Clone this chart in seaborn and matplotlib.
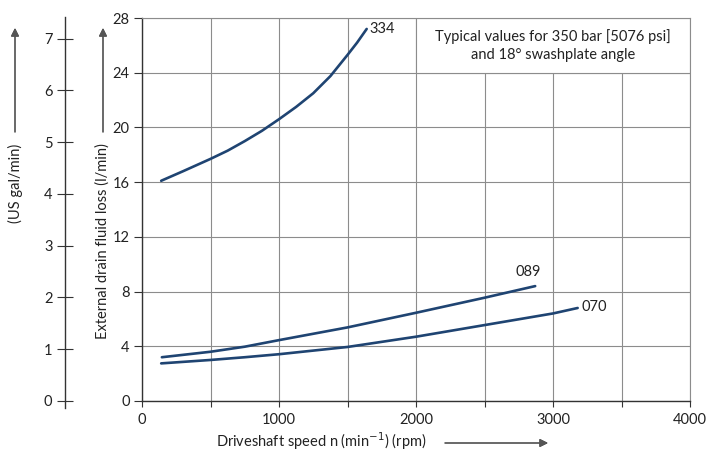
import pandas as pd
import matplotlib.pyplot as plt
import seaborn as sns
from matplotlib.patches import Rectangle

# ===== DATA =====
rpm_334 = [140, 300, 500, 625, 750, 875, 1000, 1125, 1250, 1375, 1500, 1570, 1640]
flow_334 = [16.1, 16.8, 17.7, 18.3, 19.0, 19.75, 20.6, 21.5, 22.5, 23.75, 25.3, 26.2, 27.2]

rpm_089 = [145, 500, 750, 1000, 1500, 2000, 2500, 2870]
flow_089 = [3.2, 3.6, 3.97, 4.45, 5.38, 6.45, 7.55, 8.4]

rpm_070 = [140, 500, 750, 1000, 1500, 2000, 2500, 3000, 3180]
flow_070 = [2.75, 3.0, 3.2, 3.42, 3.95, 4.7, 5.55, 6.4, 6.8]

sizes = ["334", "089", "070"]
x_ticks = [0, 1000, 2000, 3000, 4000]
y_ticks = [0, 4, 8, 12, 16, 20, 24, 28]
gal_ticks = [0, 1, 2, 3, 4, 5, 6, 7]
L_PER_GAL = 3.785

df = pd.concat([
    pd.DataFrame({"rpm": rpm_334, "flow": flow_334, "size": "334"}),
    pd.DataFrame({"rpm": rpm_089, "flow": flow_089, "size": "089"}),
    pd.DataFrame({"rpm": rpm_070, "flow": flow_070, "size": "070"}),
])

# ===== STYLE =====
sns.set_theme(style="white")
plt.rcParams["font.family"] = ["Lato", "DejaVu Sans"]
W, H = 707, 453
line_col = "#1f4472"
grid_col = "#8c8c8c"
axis_col = "#333333"
txt_col = "#222222"
fs = 10.5

fig = plt.figure(figsize=(W / 100, H / 100), dpi=100)

# main axes: x 0 -> px 142, 4000 -> px 690 ; y 0 -> px 401, 28 -> px 18
ax = fig.add_axes([142 / W, (H - 401) / H, 548 / W, 383 / H])
sns.lineplot(data=df, x="rpm", y="flow", hue="size", hue_order=sizes,
             palette=[line_col] * 3, linewidth=1.9, legend=False, ax=ax,
             sort=False, estimator=None)

ax.set_xlim(0, 4000)
ax.set_ylim(0, 28)
ax.set_xticks(range(0, 4001, 500))
ax.set_xticklabels([str(v) if v in x_ticks else "" for v in range(0, 4001, 500)],
                   fontsize=fs)
ax.set_yticks(y_ticks)
ax.set_yticklabels([str(v) for v in y_ticks], fontsize=fs)
ax.set_xlabel("")
ax.set_ylabel("")
ax.grid(True, color=grid_col, linewidth=0.8)
ax.set_axisbelow(True)
ax.tick_params(axis="x", bottom=True, direction="out", length=4, width=0.8,
               color=axis_col, pad=5, labelcolor=txt_col)
ax.tick_params(axis="y", left=True, direction="out", length=6, width=0.8,
               color=axis_col, pad=3, labelcolor=txt_col)
for s in ["left", "bottom"]:
    ax.spines[s].set_color(axis_col)
    ax.spines[s].set_linewidth(1.0)
for s in ["top", "right"]:
    ax.spines[s].set_color(grid_col)
    ax.spines[s].set_linewidth(0.8)

# white box for the note
ax.add_patch(Rectangle((2000, 24), 2000, 4, facecolor="white",
                       edgecolor=grid_col, linewidth=0.8, zorder=1))
ax.text(3000, 26, "Typical values for 350 bar [5076 psi]\nand 18° swashplate angle",
        ha="center", va="center", fontsize=fs, linespacing=1.4,
        color=txt_col, zorder=3)

# curve labels
ax.annotate("334", (rpm_334[-1], flow_334[-1]), xytext=(2, 0),
            textcoords="offset points", ha="left", va="center", fontsize=fs,
            color=txt_col)
ax.annotate("089", (rpm_089[-1], flow_089[-1]), xytext=(-5, 10),
            textcoords="offset points", ha="center", va="center", fontsize=fs,
            color=txt_col)
ax.annotate("070", (rpm_070[-1], flow_070[-1]), xytext=(3, 1),
            textcoords="offset points", ha="left", va="center", fontsize=fs,
            color=txt_col)

# secondary US gal/min axis on the far left (spine at px 65)
top_px, bot_px = 17, 408
ppg = 383 / 28 * L_PER_GAL  # pixels per gallon
g_top = (401 - top_px) / ppg
g_bot = -(bot_px - 401) / ppg
ax2 = fig.add_axes([65 / W, (H - bot_px) / H, 0.001, (bot_px - top_px) / H])
ax2.set_ylim(g_bot, g_top)
ax2.set_yticks(gal_ticks)
ax2.set_yticklabels([str(v) for v in gal_ticks], fontsize=fs)
ax2.set_xticks([])
ax2.patch.set_alpha(0)
for s in ["top", "right", "bottom"]:
    ax2.spines[s].set_visible(False)
ax2.spines["left"].set_color(axis_col)
ax2.spines["left"].set_linewidth(1.0)
ax2.tick_params(axis="y", left=True, direction="inout", length=12, width=0.8,
                color=axis_col, pad=3, labelcolor=txt_col)

# axis titles and arrows
def fx(px):
    return px / W

def fy(py):
    return (H - py) / H

fig.text(fx(15), fy(183), "(US gal/min)", rotation=90, ha="center",
         va="center", fontsize=fs, color=txt_col)
fig.text(fx(103), fy(241), "External drain fluid loss (l/min)", rotation=90,
         ha="center", va="center", fontsize=fs, color=txt_col)
fig.text(fx(321), fy(441), "Driveshaft speed n (min$^{-1}$) (rpm)",
         ha="center", va="center", fontsize=fs, color=txt_col)

arrow = dict(arrowstyle="-|>", color="#555555", lw=0.9, mutation_scale=12,
             shrinkA=0, shrinkB=0)
for xpx in (15, 103):
    fig.add_artist(plt.annotate("", xy=(fx(xpx), fy(28)),
                                xytext=(fx(xpx), fy(132)),
                                xycoords="figure fraction",
                                textcoords="figure fraction",
                                arrowprops=arrow))
fig.add_artist(plt.annotate("", xy=(fx(548), fy(443)), xytext=(fx(445), fy(443)),
                            xycoords="figure fraction",
                            textcoords="figure fraction", arrowprops=arrow))

plt.savefig("out.png", dpi=100)
